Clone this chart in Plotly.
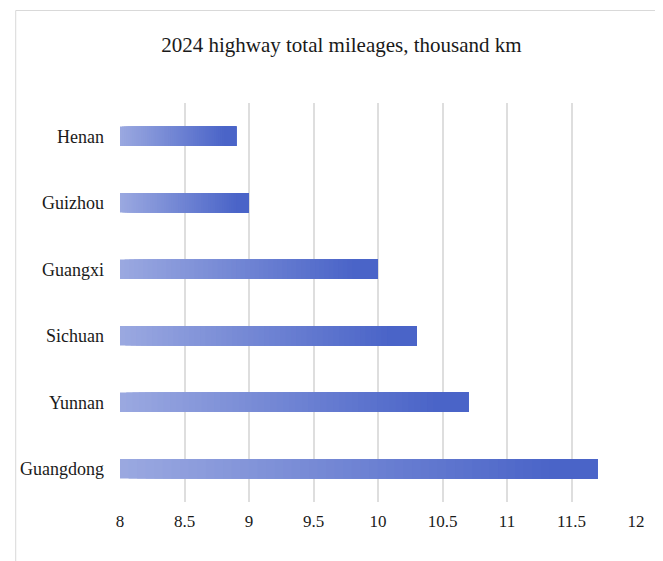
import plotly.graph_objects as go

provinces = ["Henan", "Guizhou", "Guangxi", "Sichuan", "Yunnan", "Guangdong"]
mileage = [8.9, 9.0, 10.0, 10.3, 10.7, 11.7]
x_ticks = [8, 8.5, 9, 9.5, 10, 10.5, 11, 11.5, 12]
x_min = 8

# gradient rendered as overlaid slices of each bar (light -> dark)
c_light = (154, 168, 224)
c_dark = (74, 100, 200)
N = 50          # slices across the first 90% of each bar
STOP = 0.9      # fraction of bar length where the darkest colour is reached

fig = go.Figure()
for i in range(N + 1):
    t = i / N
    col = tuple(round(c_light[k] + (c_dark[k] - c_light[k]) * t) for k in range(3))
    f0 = STOP * i / N
    fig.add_trace(go.Bar(
        y=provinces,
        x=[(v - x_min) * (1 - f0) for v in mileage],
        base=[x_min + (v - x_min) * f0 for v in mileage],
        orientation="h",
        marker=dict(color="rgb(%d,%d,%d)" % col, line=dict(width=0)),
        width=0.29,
        showlegend=False,
        hoverinfo="skip",
    ))

L, R, T, B = 106, 35, 95, 67
PW = 663 - L - R
PH = 561 - T - B

fig.update_layout(
    width=663, height=561,
    margin=dict(l=L, r=R, t=T, b=B),
    barmode="overlay",
    paper_bgcolor="white",
    plot_bgcolor="white",
    font=dict(family="Liberation Serif, Times New Roman, serif", size=17, color="#1a1a1a"),
    title=dict(text="2024 highway total mileages, thousand km", x=(330 - L) / PW, xanchor="center",
               xref="paper", y=1 - 37 / 561, yanchor="middle",
               font=dict(size=21, color="#1a1a1a")),
    xaxis=dict(range=[8, 12], tickvals=x_ticks, ticktext=[str(v) for v in x_ticks],
               showgrid=True, gridcolor="#dedede", gridwidth=1.5, zeroline=False,
               showline=False, ticks="", ticklabelstandoff=7, fixedrange=True),
    yaxis=dict(autorange="reversed", showgrid=False, showline=False, ticks="",
               ticklabelstandoff=15, tickfont=dict(size=18), fixedrange=True),
    shapes=[dict(type="rect", xref="paper", yref="paper",
                 x0=(0.5 - L) / PW, x1=(680 - L) / PW,
                 y0=(T + PH - 580) / PH, y1=(T + PH - 2.5) / PH,
                 line=dict(color="#d9d9d9", width=1), fillcolor="rgba(0,0,0,0)", layer="below")],
)

fig.write_html("out.html")
